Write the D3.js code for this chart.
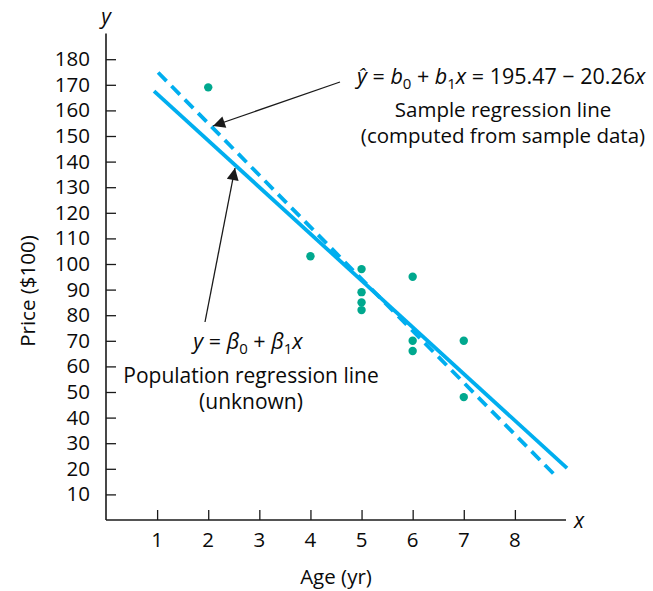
<!DOCTYPE html>
<html><head><meta charset="utf-8">
<script src="https://cdn.jsdelivr.net/npm/d3@7"></script>
<style>body{margin:0;background:#fff}svg{display:block}text{font-family:"Open Sans",sans-serif;fill:#0a0a0a}</style>
</head><body>
<script>
const ageValues = [2, 4, 5, 5, 5, 5, 6, 6, 6, 7, 7];
const priceValues = [169, 103, 98, 89, 85, 82, 95, 70, 66, 70, 48];
const xTicks = [1, 2, 3, 4, 5, 6, 7, 8];
const yTicks = [10, 20, 30, 40, 50, 60, 70, 80, 90, 100, 110, 120, 130, 140, 150, 160, 170, 180];
const sampleLine = {b0: 195.47, b1: -20.26, x0: 1.02, x1: 8.79};
const popLine = {b0: 184.7, b1: -18.23, x0: 0.94, x1: 9.02};

const W = 653, H = 591;
const svg = d3.select("body").append("svg").attr("width", W).attr("height", H);
const x = d3.scaleLinear().domain([0, 9]).range([106, 566]);
const y = d3.scaleLinear().domain([0, 190]).range([520, 33.6]);
const ink = "#1a1a1a", blue = "#00aeef", green = "#00a88e";
const FS = 20.5;

// axes
const xa = svg.append("g").attr("transform", `translate(0,${y(0)})`)
  .call(d3.axisTop(x).tickValues(xTicks).tickSize(10).tickFormat(""));
xa.select(".domain").remove();
xa.selectAll("line").attr("stroke", ink).attr("stroke-width", 1.3);
const ya = svg.append("g").attr("transform", `translate(${x(0)},0)`)
  .call(d3.axisRight(y).tickValues(yTicks).tickSize(10).tickFormat(""));
ya.select(".domain").remove();
ya.selectAll("line").attr("stroke", ink).attr("stroke-width", 1.3);
svg.append("line").attr("x1", x(0)).attr("x2", x(9)).attr("y1", y(0)).attr("y2", y(0)).attr("stroke", ink).attr("stroke-width", 1.6);
svg.append("line").attr("x1", x(0)).attr("x2", x(0)).attr("y1", y(0)).attr("y2", y(190)).attr("stroke", ink).attr("stroke-width", 1.6);

svg.append("g").selectAll("text").data(xTicks).join("text")
  .attr("x", d => x(d)).attr("y", y(0) + 27).attr("text-anchor", "middle")
  .attr("font-size", FS).text(d => d);
svg.append("g").selectAll("text").data(yTicks).join("text")
  .attr("x", x(0) - 16).attr("y", d => y(d) + 7).attr("text-anchor", "end")
  .attr("font-size", FS).text(d => d);

svg.append("text").attr("x", x(9) + 8).attr("y", y(0) + 8).attr("font-size", 21).attr("font-style", "italic").text("x");
svg.append("text").attr("x", x(0)).attr("y", 24).attr("text-anchor", "middle").attr("font-size", 21).attr("font-style", "italic").text("y");
svg.append("text").attr("x", 336).attr("y", 584).attr("text-anchor", "middle").attr("font-size", FS).text("Age (yr)");
svg.append("text").attr("transform", "translate(35,291) rotate(-90)").attr("text-anchor", "middle").attr("font-size", FS).text("Price ($100)");

// lines
function drawLine(L, dash) {
  svg.append("line")
    .attr("x1", x(L.x0)).attr("y1", y(L.b0 + L.b1 * L.x0))
    .attr("x2", x(L.x1)).attr("y2", y(L.b0 + L.b1 * L.x1))
    .attr("stroke", blue).attr("stroke-width", 3.8)
    .attr("stroke-dasharray", dash || null);
}
drawLine(popLine);
drawLine(sampleLine, "12 7");

// points
svg.append("g").selectAll("circle").data(ageValues.map((a, i) => [a, priceValues[i]])).join("circle")
  .attr("cx", d => x(d[0])).attr("cy", d => y(d[1])).attr("r", 4.2).attr("fill", green);

// arrows
const defs = svg.append("defs");
defs.append("marker").attr("id", "ah").attr("viewBox", "0 0 10 10").attr("refX", 10).attr("refY", 5)
  .attr("markerWidth", 16).attr("markerHeight", 12).attr("markerUnits", "userSpaceOnUse").attr("orient", "auto")
  .append("path").attr("d", "M0,0 L10,5 L0,10 z").attr("fill", ink);
svg.append("line").attr("x1", 340).attr("y1", 82).attr("x2", 213).attr("y2", 126)
  .attr("stroke", ink).attr("stroke-width", 1.3).attr("marker-end", "url(#ah)");
svg.append("line").attr("x1", 205).attr("y1", 322).attr("x2", 235).attr("y2", 168)
  .attr("stroke", ink).attr("stroke-width", 1.3).attr("marker-end", "url(#ah)");

// annotations
const t1 = svg.append("text").attr("x", 357).attr("y", 84).attr("font-size", 21.5);
t1.append("tspan").attr("font-style", "italic").text("ŷ");
t1.append("tspan").text(" = ");
t1.append("tspan").attr("font-style", "italic").text("b");
t1.append("tspan").attr("font-size", 15).attr("dy", 5).text("0");
t1.append("tspan").attr("dy", -5).text(" + ");
t1.append("tspan").attr("font-style", "italic").text("b");
t1.append("tspan").attr("font-size", 15).attr("dy", 5).text("1");
t1.append("tspan").attr("dy", -5).attr("font-style", "italic").text("x");
t1.append("tspan").text(" = 195.47 − 20.26");
t1.append("tspan").attr("font-style", "italic").text("x");
svg.append("text").attr("x", 503).attr("y", 117).attr("text-anchor", "middle").attr("font-size", FS).text("Sample regression line");
svg.append("text").attr("x", 503).attr("y", 143).attr("text-anchor", "middle").attr("font-size", FS).text("(computed from sample data)");

const t2 = svg.append("text").attr("x", 248).attr("y", 349).attr("text-anchor", "middle").attr("font-size", 21.5);
t2.append("tspan").attr("font-style", "italic").text("y");
t2.append("tspan").text(" = ");
t2.append("tspan").attr("font-style", "italic").text("β");
t2.append("tspan").attr("font-size", 15).attr("dy", 5).text("0");
t2.append("tspan").attr("dy", -5).text(" + ");
t2.append("tspan").attr("font-style", "italic").text("β");
t2.append("tspan").attr("font-size", 15).attr("dy", 5).text("1");
t2.append("tspan").attr("dy", -5).attr("font-style", "italic").text("x");
svg.append("text").attr("x", 251).attr("y", 383).attr("text-anchor", "middle").attr("font-size", 21).text("Population regression line");
svg.append("text").attr("x", 251).attr("y", 409).attr("text-anchor", "middle").attr("font-size", 21).text("(unknown)");
</script>
</body></html>
